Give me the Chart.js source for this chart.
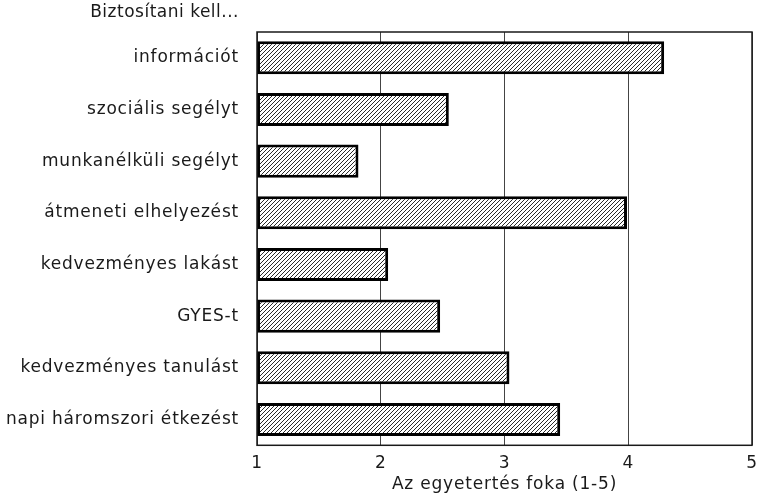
<!DOCTYPE html>
<html>
<head>
<meta charset="utf-8">
<script src="https://cdn.jsdelivr.net/npm/chart.js@4/dist/chart.umd.min.js"></script>
<style>
  html, body { margin: 0; padding: 0; background: #ffffff; }
  #wrap { width: 758px; height: 494px; }
</style>
</head>
<body>
<div id="wrap"><canvas id="c" width="758" height="494"></canvas></div>
<script>
// Survey items and mean agreement scores (scale 1–5)
const categories = [
  'információt',
  'szociális segélyt',
  'munkanélküli segélyt',
  'átmeneti elhelyezést',
  'kedvezményes lakást',
  'GYES-t',
  'kedvezményes tanulást',
  'napi háromszori étkezést'
];
const agreement = [4.29, 2.55, 1.82, 3.99, 2.06, 2.48, 3.04, 3.45];
const xTicks = [1, 2, 3, 4, 5];
const headerText = 'Biztosítani kell...';
const axisTitle = 'Az egyetertés foka (1-5)';

const FONT = '"DejaVu Sans", sans-serif';
const INK = '#1a1a1a';
const SPACING = '0.8px';

// Diagonal hatch fill for the bars
function hatchPattern() {
  const s = 4;
  const p = document.createElement('canvas');
  p.width = s; p.height = s;
  const g = p.getContext('2d');
  g.fillStyle = '#ffffff';
  g.fillRect(0, 0, s, s);
  g.strokeStyle = '#2a2a2a';
  g.lineWidth = 1;
  g.beginPath();
  g.moveTo(0, s); g.lineTo(s, 0);
  g.moveTo(-1, 1); g.lineTo(1, -1);
  g.moveTo(s - 1, s + 1); g.lineTo(s + 1, s - 1);
  g.stroke();
  return document.getElementById('c').getContext('2d').createPattern(p, 'repeat');
}

// Wider letter spacing for all chart text
const spacingPlugin = {
  id: 'spacing',
  beforeDraw(chart) { chart.ctx.letterSpacing = SPACING; }
};

// Header above the category labels
const headerPlugin = {
  id: 'header',
  afterDraw(chart) {
    const y = chart.scales.y;
    const ctx = chart.ctx;
    ctx.save();
    ctx.letterSpacing = '0.5px';
    ctx.font = '17px ' + FONT;
    ctx.fillStyle = INK;
    ctx.textAlign = 'right';
    ctx.textBaseline = 'middle';
    ctx.fillText(headerText, y.right - 18, chart.chartArea.top - 19);
    ctx.restore();
  }
};

// Frame around the plotting area
const framePlugin = {
  id: 'frame',
  afterDatasetsDraw(chart) {
    const a = chart.chartArea;
    const ctx = chart.ctx;
    ctx.save();
    ctx.strokeStyle = INK;
    ctx.lineWidth = 1.5;
    ctx.strokeRect(a.left, a.top, a.right - a.left, a.bottom - a.top);
    ctx.restore();
  }
};

new Chart(document.getElementById('c'), {
  type: 'bar',
  data: {
    labels: categories,
    datasets: [{
      data: agreement.map(v => [1, v]),
      backgroundColor: hatchPattern(),
      borderColor: '#000000',
      borderWidth: 3,
      borderSkipped: false,
      barPercentage: 0.64,
      categoryPercentage: 1.0
    }]
  },
  options: {
    indexAxis: 'y',
    responsive: false,
    animation: false,
    devicePixelRatio: 1,
    layout: { padding: { top: 32, right: 0, bottom: 0, left: 0 } },
    plugins: {
      legend: { display: false },
      tooltip: { enabled: false },
      title: { display: false }
    },
    scales: {
      x: {
        min: 1,
        max: 5,
        afterBuildTicks(scale) { scale.ticks = xTicks.map(v => ({ value: v })); },
        afterFit(scale) { scale.paddingRight = 6; scale.paddingLeft = 0; },
        grid: { color: '#444444', lineWidth: 1, drawTicks: false },
        border: { display: false },
        ticks: { color: INK, font: { family: FONT, size: 17, lineHeight: 1 }, padding: 10 },
        title: { display: true, text: axisTitle, color: INK, font: { family: FONT, size: 17, lineHeight: 1.1 }, padding: { top: -7, bottom: 0 } }
      },
      y: {
        grid: { display: false, drawTicks: false },
        border: { display: false },
        ticks: { color: INK, font: { family: FONT, size: 17 }, padding: 18, crossAlign: 'near' },
        afterFit(scale) { scale.width = 257; }
      }
    }
  },
  plugins: [spacingPlugin, headerPlugin, framePlugin]
});
</script>
</body>
</html>
